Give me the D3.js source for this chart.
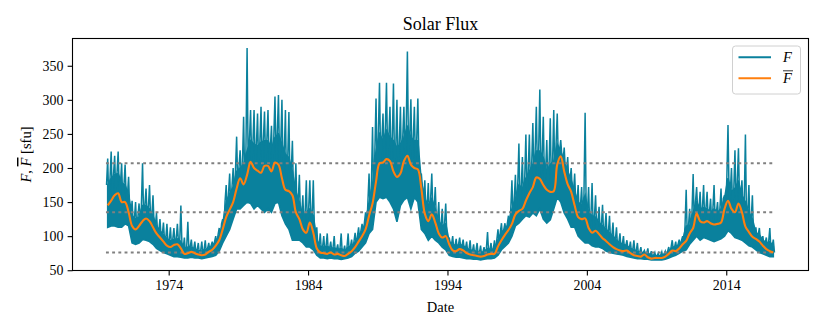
<!DOCTYPE html>
<html>
<head>
<meta charset="utf-8">
<script src="https://cdn.jsdelivr.net/npm/d3@7"></script>
<style>
  body { margin: 0; background: #fff; }
  svg { display: block; }
  text { font-family: "Liberation Serif", "DejaVu Serif", serif; fill: #000; }
</style>
</head>
<body>
<div id="chart"></div>
<script>
// quarterly samples of the daily flux, first quarter centred on 1969.625
const firstQuarter = 1969.625;
const quarterStep = 0.25;

// upper envelope (incl. spikes) of the daily flux per quarter [sfu]
const fHigh = [
  214, 224,
  218, 224, 207, 205,
  187, 152, 150, 148,
  207, 170, 175, 160,
  134, 125, 120, 118,
  113, 112, 118, 145,
  98, 121, 95, 92,
  90, 92, 94, 90,
  92, 100, 112, 125,
  175, 192, 200, 246,
  226, 275, 376, 285,
  285, 280, 290, 283,
  285, 262, 305, 307,
  300, 285, 282, 240,
  207, 190, 160, 182,
  182, 182, 113, 104,
  100, 104, 92, 100,
  88, 104, 86, 104,
  95, 105, 113, 118,
  135, 192, 260, 302,
  325, 280, 325, 290,
  324, 300, 290, 290,
  371, 301, 290, 302,
  192, 182, 178, 192,
  172, 150, 140, 148,
  98, 100, 96, 98,
  95, 92, 94, 88,
  90, 86, 84, 106,
  90, 94, 110, 119,
  119, 130, 182, 190,
  236, 216, 249, 249,
  266, 290, 315, 275,
  241, 273, 285, 280,
  241, 230, 216, 200,
  192, 175, 172, 281,
  172, 178, 160, 143,
  146, 134, 130, 120,
  113, 104, 100, 94,
  92, 94, 90, 84,
  79, 82, 78, 76,
  75, 77, 78, 84,
  94, 92, 95, 100,
  168, 140, 191, 172,
  165, 175, 165, 155,
  175, 150, 170, 160,
  263, 200, 226, 229,
  182, 249, 175, 160,
  113, 112, 100, 98,
  112, 95
];

// upper edge of the dense part of the daily flux per quarter [sfu]
const fCore = [
  175, 185,
  190, 192, 178, 175,
  160, 130, 125, 128,
  145, 145, 140, 130,
  115, 108, 102, 96,
  93, 95, 96, 92,
  82, 84, 84, 81,
  79, 78, 80, 82,
  86, 92, 102, 118,
  150, 162, 172, 195,
  200, 205, 225, 240,
  235, 232, 238, 240,
  240, 228, 245, 250,
  235, 220, 215, 195,
  165, 150, 130, 135,
  140, 130, 95, 85,
  84, 85, 82, 83,
  80, 82, 78, 84,
  85, 92, 100, 108,
  120, 150, 175, 225,
  250, 240, 255, 245,
  240, 230, 235, 245,
  260, 245, 240, 240,
  180, 155, 145, 155,
  140, 122, 115, 118,
  92, 88, 86, 88,
  86, 82, 80, 78,
  78, 76, 77, 82,
  80, 82, 95, 106,
  110, 118, 140, 155,
  175, 170, 185, 195,
  205, 225, 225, 215,
  195, 205, 210, 235,
  225, 210, 195, 182,
  165, 150, 145, 160,
  135, 130, 128, 120,
  115, 110, 105, 100,
  94, 90, 88, 86,
  82, 80, 78, 76,
  76, 75, 72, 72,
  71, 72, 74, 78,
  84, 84, 88, 94,
  115, 115, 135, 150,
  140, 142, 140, 135,
  140, 135, 140, 155,
  185, 165, 170, 180,
  160, 150, 135, 125,
  105, 102, 94, 90,
  92, 85
];

// lower envelope of the daily flux per quarter [sfu]
const fLow = [
  113, 115,
  115, 113, 113, 118,
  115, 90, 88, 90,
  95, 94, 92, 88,
  82, 79, 76, 74,
  72, 70, 70, 69,
  68, 68, 69, 68,
  68, 67, 68, 69,
  70, 72, 78, 90,
  100, 110, 125, 140,
  140, 145, 150, 148,
  140, 145, 140, 135,
  140, 135, 148, 150,
  130, 118, 110, 94,
  94, 94, 90, 84,
  84, 80, 72, 68,
  68, 67, 68, 67,
  67, 66, 67, 68,
  70, 75, 78, 84,
  90, 104, 110, 150,
  157, 155, 157, 150,
  140, 121, 145, 153,
  157, 140, 157, 150,
  110, 104, 94, 100,
  94, 90, 84, 80,
  72, 70, 69, 69,
  68, 67, 67, 66,
  66, 65, 66, 67,
  67, 68, 72, 80,
  85, 90, 100, 115,
  119, 125, 130, 128,
  134, 130, 140, 125,
  119, 124, 140, 157,
  150, 134, 125, 113,
  113, 100, 95, 90,
  90, 86, 84, 84,
  82, 78, 76, 75,
  74, 73, 72, 70,
  69, 68, 67, 67,
  66, 66, 65, 65,
  65, 65, 66, 68,
  70, 72, 75, 78,
  80, 88, 94, 100,
  94, 98, 96, 94,
  92, 94, 96, 100,
  108, 104, 98, 96,
  94, 90, 86, 84,
  80, 76, 74, 72,
  70, 70
];

// smoothed flux F-bar per quarter [sfu]
const fMean = [
  145, 152,
  160, 163, 150, 150,
  135, 115, 110, 115,
  122, 126, 122, 113,
  104, 98, 92, 86,
  84, 87, 88, 82,
  74, 75, 77, 75,
  73, 72, 73, 77,
  80, 86, 94, 110,
  128, 139, 150, 170,
  185, 176, 190, 209,
  200, 196, 193, 203,
  203, 195, 208, 205,
  185, 168, 166, 160,
  135, 125, 110, 105,
  120, 105, 82, 76,
  75, 74, 76, 73,
  74, 72, 71, 74,
  78, 84, 92, 100,
  110, 130, 148, 180,
  207, 208, 213, 210,
  195, 187, 192, 210,
  218, 205, 200, 198,
  170, 133, 122, 132,
  120, 104, 98, 100,
  88, 79, 78, 81,
  79, 75, 73, 72,
  71, 70, 71, 73,
  74, 74, 85, 94,
  102, 109, 118, 132,
  137, 140, 152, 163,
  172, 186, 184, 175,
  168, 165, 166, 205,
  217, 195, 176, 165,
  145, 128, 125, 126,
  112, 105, 108, 103,
  97, 93, 88, 84,
  81, 79, 78, 79,
  75, 72, 71, 70,
  73, 69, 67, 68,
  68, 68, 70, 74,
  79, 78, 82, 88,
  93, 104, 112, 133,
  122, 120, 122, 119,
  117, 118, 120, 140,
  152, 140, 135, 148,
  135, 114, 106, 99,
  96, 92, 86, 81,
  78, 76
];

// dotted reference levels [sfu]
const refLevels = [207, 135, 76];

const yearTicks = [1974, 1984, 1994, 2004, 2014];
const fluxTicks = [50, 100, 150, 200, 250, 300, 350];

const width = 830, height = 332;
const margin = { top: 38.5, right: 21.5, bottom: 61.5, left: 72.5 };
const teal = "#0a819d";
const orange = "#ff7f0e";

const quarters = fMean.map((d, i) => firstQuarter + i * quarterStep);

// spikes: core edge -> peak -> mean inside each quarter
const fPoints = [];
quarters.forEach((t, i) => {
  fPoints.push([t - quarterStep / 3, fCore[i]]);
  fPoints.push([t, fHigh[i]]);
  fPoints.push([t + quarterStep / 3, fMean[i]]);
});
const meanPoints = quarters.map((t, i) => [t, fMean[i]]);
const bandPoints = quarters.map((t, i) => [t, fLow[i], fCore[i]]);

const t0 = quarters[0] - quarterStep / 2, t1 = quarters[quarters.length - 1] + quarterStep / 2;
const pad = (t1 - t0) * 0.05;

const x = d3.scaleLinear()
  .domain([t0 - pad, t1 + pad])
  .range([margin.left, width - margin.right]);
const y = d3.scaleLinear()
  .domain([49.6, 390])
  .range([height - margin.bottom, margin.top]);

const svg = d3.select("#chart").append("svg")
  .attr("width", width)
  .attr("height", height);

// dense body of the daily values
svg.append("path")
  .datum(bandPoints)
  .attr("fill", teal)
  .attr("stroke", teal)
  .attr("stroke-width", 1.6)
  .attr("d", d3.area().x(d => x(d[0])).y0(d => y(d[1])).y1(d => y(d[2])));

svg.append("path")
  .datum(fPoints)
  .attr("fill", "none")
  .attr("stroke", teal)
  .attr("stroke-width", 1.5)
  .attr("stroke-linejoin", "miter")
  .attr("d", d3.line().x(d => x(d[0])).y(d => y(d[1])));

svg.selectAll(".ref")
  .data(refLevels)
  .join("line")
  .attr("class", "ref")
  .attr("x1", x(t0))
  .attr("x2", x(t1))
  .attr("y1", d => y(d))
  .attr("y2", d => y(d))
  .attr("stroke", "#808080")
  .attr("stroke-width", 2.1)
  .attr("stroke-dasharray", "2.9,3.3");

svg.append("path")
  .datum(meanPoints)
  .attr("fill", "none")
  .attr("stroke", orange)
  .attr("stroke-width", 2.1)
  .attr("d", d3.line().x(d => x(d[0])).y(d => y(d[1])).curve(d3.curveCatmullRom));

// axes
const xAxis = svg.append("g")
  .attr("transform", `translate(0,${height - margin.bottom})`)
  .call(d3.axisBottom(x).tickValues(yearTicks).tickFormat(d3.format("d"))
    .tickSize(4.9).tickPadding(4.5));
const yAxis = svg.append("g")
  .attr("transform", `translate(${margin.left},0)`)
  .call(d3.axisLeft(y).tickValues(fluxTicks).tickSize(4.9).tickPadding(4.2));

[xAxis, yAxis].forEach(g => {
  g.select(".domain").remove();
  g.selectAll(".tick line").attr("stroke", "#000").attr("stroke-width", 1.1);
  g.selectAll(".tick text").style("font-size", "13.9px")
    .style("font-family", "\"Liberation Serif\", serif");
});

svg.append("rect")
  .attr("x", margin.left)
  .attr("y", margin.top)
  .attr("width", width - margin.left - margin.right)
  .attr("height", height - margin.top - margin.bottom)
  .attr("fill", "none")
  .attr("stroke", "#000")
  .attr("stroke-width", 1.1);

// title and labels
svg.append("text")
  .attr("x", (margin.left + width - margin.right) / 2)
  .attr("y", 30)
  .attr("text-anchor", "middle")
  .style("font-size", "18px")
  .text("Solar Flux");

svg.append("text")
  .attr("x", (margin.left + width - margin.right) / 2)
  .attr("y", 312)
  .attr("text-anchor", "middle")
  .style("font-size", "14.5px")
  .text("Date");

const yl = svg.append("text")
  .attr("transform", `translate(31,${(margin.top + height - margin.bottom) / 2}) rotate(-90)`)
  .attr("text-anchor", "middle")
  .style("font-size", "14.5px");
yl.append("tspan").style("font-style", "italic").text("F");
yl.append("tspan").text(", ");
yl.append("tspan").style("font-style", "italic")
  .style("text-decoration", "overline").text("F");
yl.append("tspan").text(" [sfu]");

// legend
const lg = svg.append("g");
lg.append("rect")
  .attr("x", 732.5).attr("y", 46)
  .attr("width", 68).attr("height", 48)
  .attr("rx", 3)
  .attr("fill", "#fff").attr("fill-opacity", 0.8)
  .attr("stroke", "#d0d0d0").attr("stroke-width", 1);
const legendItems = [
  { color: teal, yPos: 57.3, bar: false },
  { color: orange, yPos: 78.3, bar: true }
];
legendItems.forEach(it => {
  lg.append("line")
    .attr("x1", 738.5).attr("x2", 771)
    .attr("y1", it.yPos).attr("y2", it.yPos)
    .attr("stroke", it.color).attr("stroke-width", 2.1);
  lg.append("text")
    .attr("x", 783).attr("y", it.yPos + 5)
    .style("font-size", "14.5px")
    .style("font-style", "italic")
    .text("F");
  if (it.bar) {
    lg.append("line")
      .attr("x1", 783).attr("x2", 793)
      .attr("y1", it.yPos - 7.5).attr("y2", it.yPos - 7.5)
      .attr("stroke", "#000").attr("stroke-width", 0.8);
  }
});
</script>
</body>
</html>
